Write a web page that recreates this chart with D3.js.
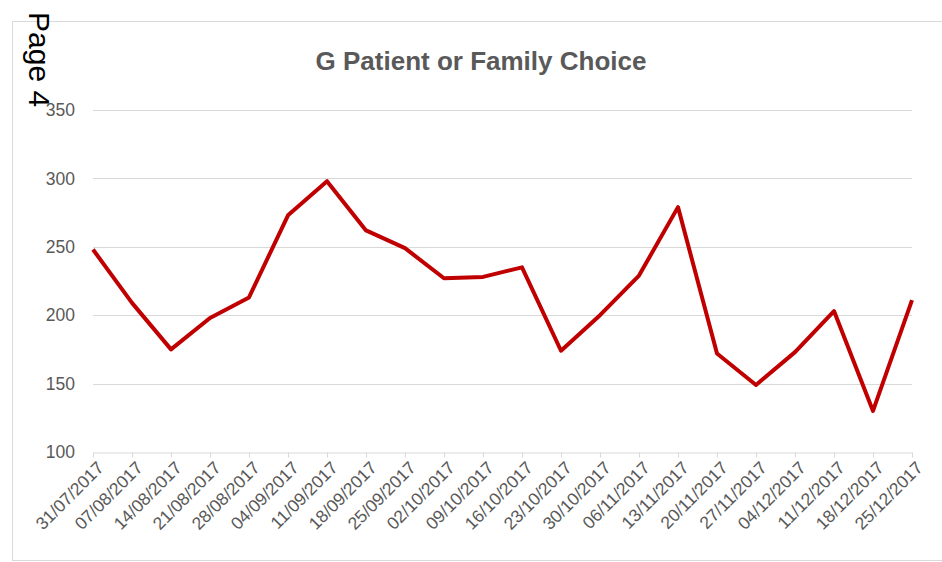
<!DOCTYPE html>
<html>
<head>
<meta charset="utf-8">
<script src="https://cdn.jsdelivr.net/npm/d3@7"></script>
<style>
  body { margin: 0; background: #fff; }
  svg { display: block; }
</style>
</head>
<body>
<script>
const weeks = ['31/07/2017','07/08/2017','14/08/2017','21/08/2017','28/08/2017','04/09/2017',
  '11/09/2017','18/09/2017','25/09/2017','02/10/2017','09/10/2017','16/10/2017','23/10/2017',
  '30/10/2017','06/11/2017','13/11/2017','20/11/2017','27/11/2017','04/12/2017','11/12/2017',
  '18/12/2017','25/12/2017']
const counts = [248, 209, 175, 198, 213, 273, 298, 262, 249, 227, 228, 235, 174, 200, 229, 279,
  172, 149, 173, 203, 130, 211]
const yTicks = [100, 150, 200, 250, 300, 350]

const w = 942
const h = 562
const plotLeft = 93
const plotRight = 912
const plotTop = 110
const plotBottom = 452
const grey = '#595959'
const font = '"Liberation Sans", Arial, sans-serif'

const svg = d3.select('body')
     .append('svg')
     .attr('width', w)
     .attr('height', h)

// chart area border (runs off the right edge)
svg.append('rect')
     .attr('x', 12.5)
     .attr('y', 21.5)
     .attr('width', 960)
     .attr('height', 539)
     .attr('fill', 'none')
     .attr('stroke', '#d9d9d9')
     .attr('stroke-width', 1)

const xScale = d3.scalePoint()
     .domain(weeks)
     .range([plotLeft, plotRight])

const yScale = d3.scaleLinear()
     .domain([100, 350])
     .range([plotBottom, plotTop])

// gridlines
svg.append('g')
     .selectAll('line')
     .data(yTicks.slice(1))
     .enter()
     .append('line')
     .attr('x1', plotLeft)
     .attr('x2', plotRight)
     .attr('y1', d => Math.round(yScale(d)) + 0.5)
     .attr('y2', d => Math.round(yScale(d)) + 0.5)
     .attr('stroke', '#d9d9d9')

const yAxis = d3.axisLeft(yScale).tickValues(yTicks).tickSize(0).tickPadding(18)
svg.append('g')
     .attr('id', 'y-axis')
     .attr('transform', 'translate(' + plotLeft + ',0)')
     .call(yAxis)
     .call(g => g.select('.domain').remove())
     .call(g => g.selectAll('text')
          .attr('fill', grey)
          .style('font-family', font)
          .style('font-size', '17.5px'))

const xAxis = d3.axisBottom(xScale).tickSize(5).tickSizeOuter(0).tickPadding(4)
svg.append('g')
     .attr('id', 'x-axis')
     .attr('transform', 'translate(0,' + (Math.round(plotBottom) + 0.5) + ')')
     .call(xAxis)
     .call(g => g.select('.domain').attr('stroke', '#d9d9d9'))
     .call(g => g.selectAll('.tick line').attr('stroke', '#d9d9d9'))
     .call(g => g.selectAll('text')
          .attr('fill', grey)
          .style('font-family', font)
          .style('font-size', '17.5px')
          .attr('text-anchor', 'end')
          .attr('dx', 0)
          .attr('dy', 0)
          .attr('transform', 'translate(5,10) rotate(-45)'))

const line = d3.line()
     .x((d, i) => xScale(weeks[i]))
     .y(d => yScale(d))

svg.append('path')
     .datum(counts)
     .attr('d', line)
     .attr('fill', 'none')
     .attr('stroke', '#c00000')
     .attr('stroke-width', 4)
     .attr('stroke-linejoin', 'round')

svg.append('text')
     .attr('x', 481)
     .attr('y', 70)
     .attr('text-anchor', 'middle')
     .attr('fill', grey)
     .style('font-family', font)
     .style('font-weight', 'bold')
     .style('font-size', '26px')
     .text('G Patient or Family Choice')

svg.append('text')
     .attr('transform', 'translate(29,12) rotate(90)')
     .attr('fill', '#000')
     .style('font-family', font)
     .style('font-size', '30px')
     .text('Page 4')
</script>
</body>
</html>
